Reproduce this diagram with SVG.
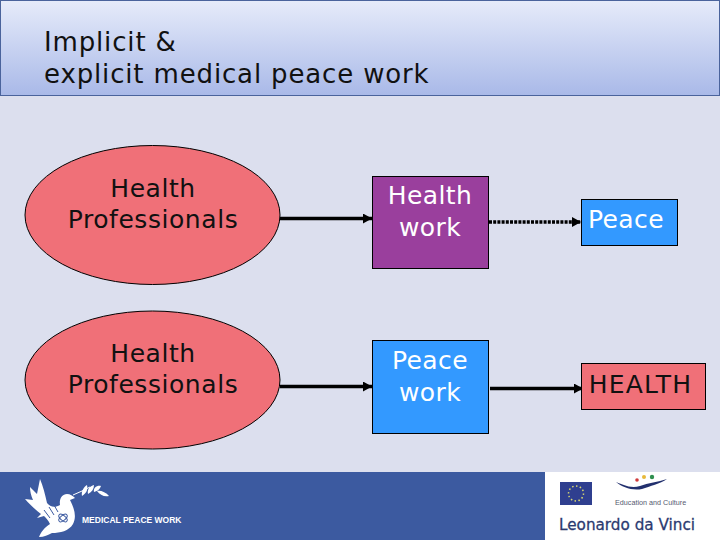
<svg xmlns="http://www.w3.org/2000/svg" width="720" height="540" viewBox="0 0 720 540">
<style>
text{font-family:"DejaVu Sans",Verdana,sans-serif}
.t{font-size:25px;text-anchor:middle;fill:#111;letter-spacing:.55px}
.w{font-size:25px;text-anchor:middle;fill:#fff;letter-spacing:.4px}
.h{font-size:26px;fill:#111;letter-spacing:.85px}
.e{fill:#f07078;stroke:#000;stroke-width:1}
.l{stroke:#000;stroke-width:3.500;fill:none}
</style>
<defs>
<linearGradient id="g" x1="0" y1="0" x2="0" y2="1"><stop offset="0" stop-color="#e6ebfa"/><stop offset="1" stop-color="#a9b9e8"/></linearGradient>
<marker id="a" markerUnits="userSpaceOnUse" markerWidth="10" markerHeight="12" refX="9" refY="5" orient="auto"><path d="M0 0L9 5L0 10Z" fill="#000"/></marker>
</defs>
<rect width="720" height="540" fill="#dcdfee"/>
<g id="title">
<rect x="0.500" y="0.500" width="719" height="95" fill="url(#g)" stroke="#4a639c"/>
<text class="h" x="44" y="51">Implicit &amp;</text>
<text class="h" x="44" y="83">explicit medical peace work</text>
</g>
<g id="connectors">
<path class="l" d="M280 218.500H372" marker-end="url(#a)"/>
<path class="l" d="M489 222H581" stroke-dasharray="3 1.200" marker-end="url(#a)"/>
<path class="l" d="M280 386.500H372" marker-end="url(#a)"/>
<path class="l" d="M490 388.500H583" marker-end="url(#a)"/>
</g>
<g id="n1"><ellipse class="e" cx="152.500" cy="215" rx="127.500" ry="69.500"/><text class="t" x="153" y="197">Health</text><text class="t" x="153" y="228">Professionals</text></g>
<g id="n2"><ellipse class="e" cx="152.500" cy="380" rx="127.500" ry="69"/><text class="t" x="153" y="362">Health</text><text class="t" x="153" y="393">Professionals</text></g>
<g id="n3"><rect x="372.500" y="176.500" width="116" height="92" fill="#9a3f9d" stroke="#000"/><text class="w" x="430" y="204">Health</text><text class="w" x="430" y="236">work</text></g>
<g id="n4"><rect x="372.500" y="340.500" width="116" height="93" fill="#3399ff" stroke="#000"/><text class="w" x="430" y="369">Peace</text><text class="w" x="430" y="401">work</text></g>
<g id="n5"><rect x="581.500" y="199.500" width="96" height="46" fill="#3399ff" stroke="#000"/><text class="w" x="626" y="228">Peace</text></g>
<g id="n6"><rect x="581.500" y="363.500" width="124" height="46" fill="#f07078" stroke="#000"/><text class="t" x="640.500" y="393" style="letter-spacing:1.200px">HEALTH</text></g>
<rect x="0" y="472" width="545" height="68" fill="#3c5aa0"/>
<rect x="545" y="472" width="175" height="68" fill="#fff"/>
<g id="dove" fill="#fff">
<path d="M40 479C43 486 45 494 47 503C50 507 55 508 60 505C59 499 62 494 67 494C70 494 73 496 75 498L70 500C74 508 77 516 73 524C69 531 60 533 52 533C48 535 44 537 39 537C41 532 44 528 50 524C48 520 46 518 44 516L37 518L41 514C36 510 30 505 25 499L33 500C31 496 30 491 30 487L37 494C38 489 39 484 40 479Z"/>
<path d="M73 495L82 491L90 487" stroke="#fff" stroke-width="1" fill="none"/>
<path d="M82 496C81 491 84 487 87 485C88 489 87 493 82 496ZM88 494C87 489 90 486 94 485C94 489 92 492 88 494ZM94 492C93 488 97 485 101 486C100 489 98 491 94 492ZM97 491C100 490 106 492 109 496C104 497 100 495 97 491Z"/>
<g fill="none" stroke="#3c5aa0" stroke-width="1"><path d="M44 510L50 518M49 507L54 515M54 505L58 512"/><ellipse cx="63" cy="518" rx="5" ry="2.500" transform="rotate(40 63 518)"/><ellipse cx="63" cy="518" rx="5" ry="2.500" transform="rotate(-40 63 518)"/></g>
</g>
<text x="82" y="523" font-size="8.500" font-weight="700" style="font-family:'Liberation Sans',Arial,sans-serif" fill="#fff">MEDICAL PEACE WORK</text>
<g id="logos">
<rect x="560" y="482" width="32" height="23" fill="#2f3f8f"/>
<circle cx="576" cy="493.500" r="7.500" fill="none" stroke="#d8d870" stroke-width="1.500" stroke-dasharray="1.500 2.400"/>
<path d="M616 482C622 484 630 489 640 486C648 483 658 482 667 479C660 484 650 486 642 489C632 491 622 487 616 482Z" fill="#22306e"/>
<circle cx="637" cy="480" r="1.800" fill="#d13b3b"/><circle cx="644" cy="477" r="2" fill="#e8b93a"/><circle cx="652" cy="477" r="2.200" fill="#2f8f4f"/>
<text x="615" y="505" font-size="7.200" style="font-family:'Liberation Sans',Arial,sans-serif" fill="#555a70">Education and Culture</text>
<text x="559" y="530" font-size="16" style="font-family:'DejaVu Sans',sans-serif;stroke:#2b3a70;stroke-width:.3px" fill="#2b3a70" textLength="136" lengthAdjust="spacingAndGlyphs">Leonardo da Vinci</text>
</g>
</svg>
